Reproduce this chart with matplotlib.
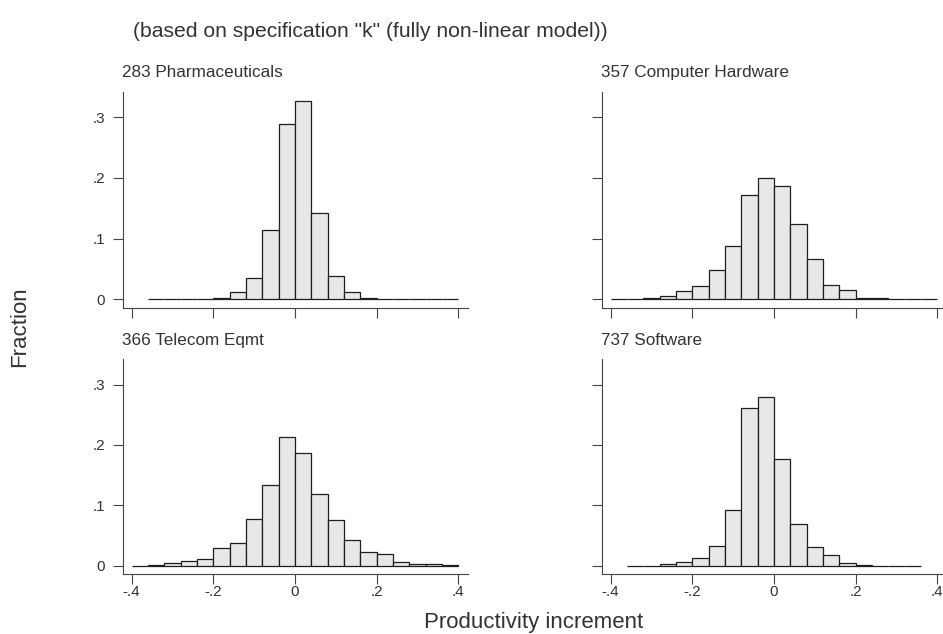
import numpy as np
import matplotlib
matplotlib.use("Agg")
import matplotlib.pyplot as plt

plt.rcParams['font.family'] = ['Liberation Sans', 'DejaVu Sans']

# histogram fractions per industry, bin width .04
bin_width = 0.04

pharma_start = -0.36
pharma = [0, 0.001, 0, 0, 0.003, 0.013, 0.036, 0.115, 0.289, 0.327,
          0.143, 0.039, 0.012, 0.003, 0.001, 0, 0, 0, 0]

hardware_start = -0.40
hardware = [0, 0.0016, 0.003, 0.005, 0.014, 0.022, 0.048, 0.088, 0.172, 0.200,
            0.186, 0.124, 0.066, 0.024, 0.015, 0.003, 0.002, 0.001, 0, 0]

telecom_start = -0.40
telecom = [0, 0.0003, 0.005, 0.0077, 0.0105, 0.029, 0.038, 0.077, 0.134, 0.213,
           0.186, 0.118, 0.075, 0.043, 0.023, 0.019, 0.0066, 0.0033, 0.002, 0.0017]

software_start = -0.36
software = [0, 0, 0.0033, 0.006, 0.012, 0.032, 0.092, 0.261, 0.280, 0.177,
            0.0685, 0.030, 0.017, 0.0044, 0.001, 0, 0, 0]

titles = ["283 Pharmaceuticals", "357 Computer Hardware",
          "366 Telecom Eqmt", "737 Software"]
starts = [pharma_start, hardware_start, telecom_start, software_start]
series = [pharma, hardware, telecom, software]

xticks = [-0.4, -0.2, 0, 0.2, 0.4]
xtick_labels = ["-.4", "-.2", "0", ".2", ".4"]
yticks = [0, 0.1, 0.2, 0.3]
ytick_labels = ["0", ".1", ".2", ".3"]

W, H = 943, 634
fig = plt.figure(figsize=(W / 100, H / 100), dpi=100)

# panel boxes in pixels: left, top, right, bottom
boxes = [(122.7, 91.7, 468.0, 308.0),
         (601.7, 91.7, 947.0, 308.0),
         (122.7, 359.3, 468.0, 574.0),
         (601.7, 359.3, 947.0, 574.0)]

text_col = '#333333'
spine_col = '#444444'

for i, (l, t, r, b) in enumerate(boxes):
    ax = fig.add_axes([l / W, 1 - b / H, (r - l) / W, (b - t) / H])
    left_edges = starts[i] + bin_width * np.arange(len(series[i]))
    ax.bar(left_edges, series[i], width=bin_width, align='edge',
           facecolor='#e8e8e8', edgecolor='#1e1e1e', linewidth=0.9)
    ax.set_xlim(-0.422, 0.424)
    ax.set_ylim(-0.014, 0.342)
    for s in ['top', 'right']:
        ax.spines[s].set_visible(False)
    for s in ['left', 'bottom']:
        ax.spines[s].set_color(spine_col)
        ax.spines[s].set_linewidth(0.8)
    ax.set_xticks(xticks)
    ax.set_yticks(yticks)
    ax.set_xticklabels(xtick_labels if i >= 2 else [])
    ax.set_yticklabels(ytick_labels if i % 2 == 0 else [])
    ax.tick_params(direction='out', length=7.2, width=0.8, color=spine_col,
                   labelcolor=text_col, labelsize=11)
    ax.tick_params(axis='y', pad=5.5)
    ax.tick_params(axis='x', pad=1)
    ax.annotate(titles[i], xy=(0, 1), xycoords='axes fraction',
                xytext=(-0.7, 10.5), textcoords='offset points',
                va='baseline', ha='left', fontsize=12.3, color=text_col)

fig.text(133 / W, 1 - 36.7 / H,
         '(based on specification "k" (fully non-linear model))',
         va='baseline', ha='left', fontsize=15.2, color=text_col)
fig.text(20 / W, 1 - 327 / H, 'Fraction', rotation=90,
         va='center', ha='center', fontsize=16, color=text_col)
fig.text(534 / W, 1 - 628 / H, 'Productivity increment',
         va='baseline', ha='center', fontsize=16, color=text_col)

fig.savefig('out.png', dpi=100)
